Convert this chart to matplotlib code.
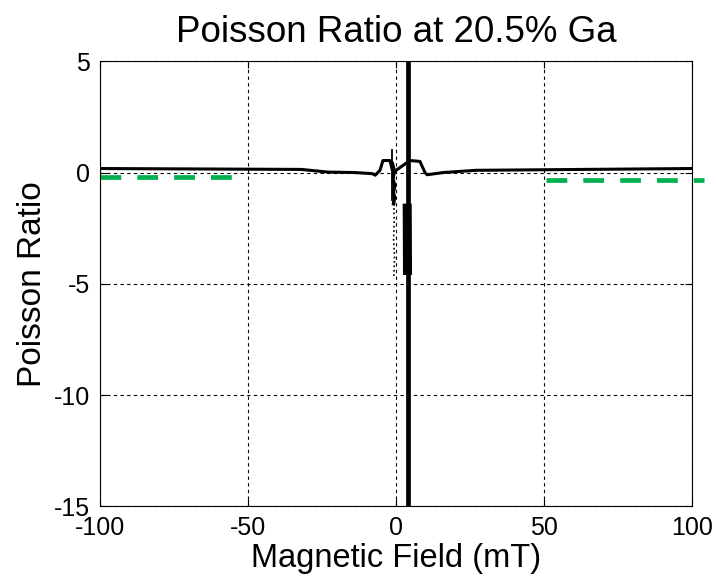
import matplotlib
matplotlib.use("Agg")
import matplotlib.pyplot as plt

plt.rcParams['font.family'] = ['Liberation Sans', 'DejaVu Sans']
plt.rcParams['axes.unicode_minus'] = False

# main black sweep (field in mT, poisson ratio)
field_main = [-100, -32, -23, -14, -8, -7, -5.4, -4.4, -2.0, -1.4, -1.0,
              4.7, 8.1, 9.8, 10.5, 16, 27, 100]
ratio_main = [0.18, 0.14, 0.02, 0.0, -0.05, -0.12, 0.1, 0.54, 0.54, 0.2, 0.0,
              0.54, 0.5, 0.0, -0.1, 0.0, 0.1, 0.18]

# divergence near 4 mT
field_spike = [4.0, 4.0]
ratio_spike = [5.5, -15.5]
field_thick = [3.8, 3.9]
ratio_thick = [-1.6, -4.4]

# noisy bits near zero field
field_thin = [-1.5, -1.5]
ratio_thin = [1.0, -1.25]
field_jit = [-1.2, -0.6, -1.0, -0.4, -0.9, -0.5, -0.8]
ratio_jit = [0.4, 0.1, -0.3, -0.6, -0.9, -1.1, -1.4]
field_dots = [-0.7, -0.6, -0.8, -0.5, -0.7]
ratio_dots = [-1.4, -2.2, -3.0, -3.8, -4.7]

# green dashed reference segments
green_left_x = [-100, -55]
green_left_y = [-0.2, -0.2]
green_right_x = [50.7, 104]
green_right_y = [-0.33, -0.33]

fig = plt.figure(figsize=(7.17, 5.78), dpi=100)
ax = fig.add_axes([0.1395, 0.124, 0.8255, 0.77])

ax.plot(field_main, ratio_main, color='black', lw=2.2)
ax.plot(field_spike, ratio_spike, color='black', lw=3.4)
ax.plot(field_thick, ratio_thick, color='black', lw=6.5)
ax.plot(field_thin, ratio_thin, color='black', lw=1.3)
ax.plot(field_jit, ratio_jit, color='black', lw=2.5)
ax.plot(field_dots, ratio_dots, color='black', lw=1.2, ls=':')

ax.plot(green_left_x, green_left_y, color='#00b050', lw=3.4, dashes=(4.4, 3.4))
ax.plot(green_right_x, green_right_y, color='#00b050', lw=3.4,
        dashes=(4.4, 3.4), clip_on=False)

ax.set_xlim(-100, 100)
ax.set_ylim(-15, 5)
ax.set_xticks([-100, -50, 0, 50, 100])
ax.set_yticks([-15, -10, -5, 0, 5])
ax.grid(True, color='black', ls=(0, (3, 3)), lw=0.8)
ax.tick_params(direction='in', length=5, labelsize=18, top=True, right=True,
               pad=7)
for s in ax.spines.values():
    s.set_linewidth(0.8)

ax.set_title('Poisson Ratio at 20.5% Ga', fontsize=26.5, pad=14)
ax.set_xlabel('Magnetic Field (mT)', fontsize=23.5, labelpad=2)
ax.set_ylabel('Poisson Ratio', fontsize=24, labelpad=4)

fig.savefig('out.png', dpi=100)
